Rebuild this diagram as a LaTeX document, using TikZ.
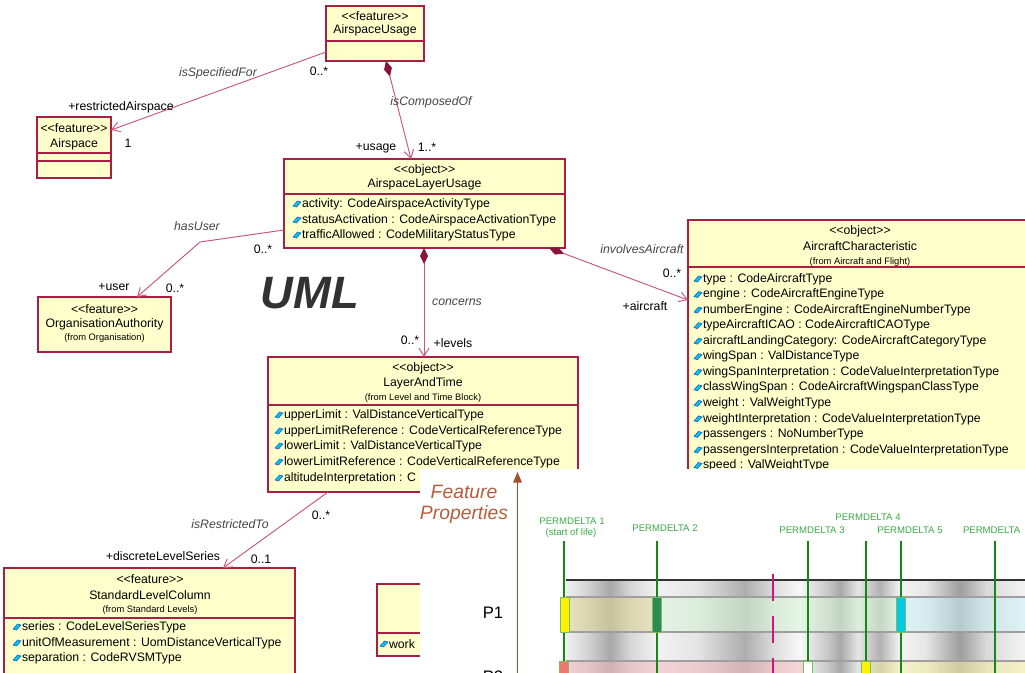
\documentclass[tikz,border=0pt]{standalone}
\usepackage{fontspec}
\setmainfont{Liberation Sans}[Ligatures=TeXOff]
\usetikzlibrary{arrows.meta,fit,calc}
\definecolor{clsfill}{RGB}{255,255,204}
\definecolor{clsline}{RGB}{170,30,70}
\definecolor{connc}{RGB}{200,85,125}
\definecolor{diamc}{RGB}{140,20,60}
\definecolor{iconA}{RGB}{0,200,235}
\definecolor{iconB}{RGB}{30,80,200}
\definecolor{fpc}{RGB}{180,95,60}
\definecolor{axisc}{RGB}{165,80,45}
\definecolor{pgreen}{RGB}{20,135,20}
\definecolor{plabel}{RGB}{60,170,70}
\definecolor{magc}{RGB}{214,20,120}
\definecolor{umlgray}{RGB}{50,50,50}
\definecolor{assocc}{RGB}{70,70,70}
\definecolor{tanc}{RGB}{225,215,150}
\definecolor{lgreenc}{RGB}{215,245,215}
\definecolor{lcyanc}{RGB}{205,240,248}
\definecolor{pinkc}{RGB}{245,185,190}
\definecolor{lyellowc}{RGB}{245,240,165}
\definecolor{mkborder}{RGB}{120,190,90}
\definecolor{mkdgreen}{RGB}{46,139,87}
\definecolor{mkcyan}{RGB}{0,200,230}
\definecolor{mksalmon}{RGB}{240,120,110}
\tikzset{
  attricon/.pic={\fill[iconA, draw=iconB, line width=0.4pt] (-4,2) -- (0.5,-3) -- (4,-2) -- (-0.5,3) -- cycle;}
}
\newcommand\attritem[4]{\pic at (#2,#3) {attricon}; \node[attr] (#1) at (#2+5,#3) {#4};}
\begin{document}
\begin{tikzpicture}[x=0.75pt,y=-0.75pt,
  every node/.style={inner sep=0pt, outer sep=0pt},
  cls/.style={draw=clsline, fill=clsfill, line width=0.9pt, inner sep=0pt},
  sepline/.style={draw=clsline, line width=0.9pt},
  txt/.style={font=\fontsize{9.2}{11}\selectfont},
  fromtxt/.style={font=\fontsize{7}{8}\selectfont},
  attr/.style={font=\fontsize{9.2}{11}\selectfont, anchor=west},
  role/.style={font=\fontsize{9.2}{11}\selectfont},
  assoc/.style={font=\fontsize{9.2}{11}\selectfont\itshape, text=assocc},
  conn/.style={draw=connc, line width=0.7pt},
  nav/.style={-{Straight Barb[length=6pt,width=7.5pt]}},
  comp/.style={arrows={Diamond[length=12pt,width=6pt,color=diamc]-Straight Barb[length=6pt,width=7.5pt]}},
  plbl/.style={font=\fontsize{7.2}{8}\selectfont, text=plabel},
  pline/.style={draw=pgreen, line width=1.7pt},
  mkbox/.style={draw=mkborder, line width=0.6pt}
]
\useasboundingbox (0,0) rectangle (1025,672);
\clip (0,0) rectangle (1025,672);
\fill[white] (0,0) rectangle (1025,672);

% ---------- classes ----------
% AirspaceUsage
\node[cls, fit={(326,6)(424,61)}] (au) {};
\draw[sepline] (326,41) -- (424,41);
\node[txt] (au-st) at (375,16) {<<feature>>};
\node[txt] (au-nm) at (375,30) {AirspaceUsage};

% Airspace
\node[cls, fit={(37,117)(111,178)}] (as) {};
\draw[sepline] (37,153) -- (111,153);
\draw[sepline] (37,161) -- (111,161);
\node[txt] (as-st) at (74,128) {<<feature>>};
\node[txt] (as-nm) at (74,144) {Airspace};

% AirspaceLayerUsage
\node[cls, fit={(284,159)(565,248)}] (alu) {};
\draw[sepline] (284,194) -- (565,194);
\node[txt] (alu-st) at (424.5,170) {<<object>>};
\node[txt] (alu-nm) at (424.5,184) {AirspaceLayerUsage};
\attritem{alu1}{297}{204}{activity: CodeAirspaceActivityType}
\attritem{alu2}{297}{220}{statusActivation : CodeAirspaceActivationType}
\attritem{alu3}{297}{235}{trafficAllowed : CodeMilitaryStatusType}

% OrganisationAuthority
\node[cls, fit={(38,297)(171,352)}] (oa) {};
\node[txt] (oa-st) at (104.5,309) {<<feature>>};
\node[txt] (oa-nm) at (104.5,324) {OrganisationAuthority};
\node[fromtxt] (oa-fr) at (104.5,338) {(from Organisation)};

% AircraftCharacteristic
\node[cls, fit={(688,220)(1032,490)}] (ac) {};
\draw[sepline] (688,267) -- (1032,267);
\node[txt] (ac-st) at (860,231) {<<object>>};
\node[txt] (ac-nm) at (860,246) {AircraftCharacteristic};
\node[fromtxt] (ac-fr) at (860,262) {(from Aircraft and Flight)};
\foreach \t [count=\i] in {type : CodeAircraftType, engine : CodeAircraftEngineType, numberEngine : CodeAircraftEngineNumberType, typeAircraftICAO : CodeAircraftICAOType, aircraftLandingCategory: CodeAircraftCategoryType, wingSpan : ValDistanceType, wingSpanInterpretation : CodeValueInterpretationType, classWingSpan : CodeAircraftWingspanClassType, weight : ValWeightType, weightInterpretation : CodeValueInterpretationType, passengers : NoNumberType, passengersInterpretation : CodeValueInterpretationType, speed : ValWeightType}{
  \pic at (698,{279+15.54*(\i-1)}) {attricon};
  \node[attr] (ac\i) at (703,{279+15.54*(\i-1)}) {\t};
}

% LayerAndTime
\node[cls, fit={(268,357)(578,492)}] (lat) {};
\draw[sepline] (268,405) -- (578,405);
\node[txt] (lat-st) at (423,368) {<<object>>};
\node[txt] (lat-nm) at (423,383) {LayerAndTime};
\node[fromtxt] (lat-fr) at (423,398) {(from Level and Time Block)};
\attritem{lat1}{279}{415}{upperLimit : ValDistanceVerticalType}
\attritem{lat2}{279}{431}{upperLimitReference : CodeVerticalReferenceType}
\attritem{lat3}{279}{446}{lowerLimit : ValDistanceVerticalType}
\attritem{lat4}{279}{462}{lowerLimitReference : CodeVerticalReferenceType}
\attritem{lat5}{279}{478}{altitudeInterpretation : C}

% StandardLevelColumn
\node[cls, fit={(4,568)(295,700)}] (slc) {};
\draw[sepline] (4,618) -- (295,618);
\node[txt] (slc-st) at (150,579) {<<feature>>};
\node[txt] (slc-nm) at (150,595) {StandardLevelColumn};
\node[fromtxt] (slc-fr) at (150,610) {(from Standard Levels)};
\attritem{slc1}{17}{627}{series : CodeLevelSeriesType}
\attritem{slc2}{17}{643}{unitOfMeasurement : UomDistanceVerticalType}
\attritem{slc3}{17}{658}{separation : CodeRVSMType}

% partial box
\node[cls, fit={(377,584)(520,656)}] (pb) {};
\draw[sepline] (377,633) -- (520,633);
\attritem{pb1}{384}{644}{work}

% ---------- connectors ----------
\draw[conn, nav] ($(au.south west)+(0,-9)$) -- ($(as.north east)+(0,13)$);
\node[assoc] (l-isf) at (218,73) {isSpecifiedFor};
\node[role] (m-isf1) at (319,71) {0..*};
\node[role] (r-isf) at (121,107) {+restrictedAirspace};
\node[role] (m-isf2) at (128,143) {1};

\draw[conn, comp] ($(au.south west)+(60,0)$) -- ($(alu.north west)+(127,0)$);
\node[assoc] (l-ico) at (431,102) {isComposedOf};
\node[role] (r-ico) at (376,148) {+usage};
\node[role] (m-ico) at (427,147) {1..*};

\coordinate (hu-bend) at (200,242);
\draw[conn, nav] ($(alu.north west)+(0,71)$) -- (hu-bend) -- ($(oa.north west)+(99,0)$);
\node[assoc] (l-hu) at (197,226) {hasUser};
\node[role] (m-hu1) at (263,249) {0..*};
\node[role] (r-hu) at (114,287) {+user};
\node[role] (m-hu2) at (175,288) {0..*};

\draw[conn, comp] ($(alu.south west)+(140,0)$) -- ($(lat.north west)+(156,0)$);
\node[assoc] (l-con) at (457,302) {concerns};
\node[role] (m-con) at (410,340) {0..*};
\node[role] (r-con) at (453,343) {+levels};

\draw[conn, comp] ($(alu.south west)+(265,0)$) -- ($(ac.north west)+(0,80)$);
\node[assoc] (l-inv) at (642,249) {involvesAircraft};
\node[role] (m-inv) at (672,273) {0..*};
\node[role] (r-inv) at (645,306) {+aircraft};

\draw[conn, nav] ($(lat.south west)+(60,0)$) -- ($(slc.north west)+(219,0)$);
\node[assoc] (l-irt) at (230,524) {isRestrictedTo};
\node[role] (m-irt1) at (321,515) {0..*};
\node[role] (r-irt) at (163,556) {+discreteLevelSeries};
\node[role] (m-irt2) at (261,559) {0..1};

% UML label
\node[font=\fontsize{34}{38}\selectfont\bfseries\itshape, text=umlgray] (uml) at (310,293) {UML};

% ---------- overlay ----------
\fill[white] (420,469) rectangle (1030,680);

% band
\foreach \xa/\ga/\xb/\gb in {566/94/586/84, 586/84/610/66, 610/66/630/84, 630/84/656/95, 656/95/696/90, 696/90/745/68, 745/68/776/88, 776/88/800/97, 800/97/828/78, 828/78/840/66, 840/66/858/90, 858/90/880/70, 880/70/900/96, 900/96/926/90, 926/90/960/62, 960/62/986/85, 986/85/1026/96}{
  \shade[left color=white!\ga!black, right color=white!\gb!black] (\xa,581) rectangle (\xb,680);
}
\fill[tanc, opacity=.55] (566,597) rectangle (657,632);
\fill[lgreenc, opacity=.55] (657,597) rectangle (901,632);
\fill[lcyanc, opacity=.55] (901,597) rectangle (1026,632);
\fill[pinkc, opacity=.55] (566,661) rectangle (808,680);
\fill[lyellowc, opacity=.55] (866,661) rectangle (1026,680);
\draw[gray!75, line width=1.1pt] (566,597) -- (1026,597);
\draw[gray!75, line width=1.1pt] (566,632) -- (1026,632);
\draw[gray!75, line width=1.1pt] (566,661) -- (1026,661);
\draw[black!80, line width=1.5pt] (566,580) -- (1026,580);

% dashed magenta
\draw[magc, line width=1.8pt, dash pattern=on 20.25pt off 11.25pt] (773,574) -- (773,690);

% axis
\coordinate (ax-bot) at (517.5,680);
\coordinate (ax-top) at (517.5,472);
\draw[axisc, line width=1.1pt, -{Triangle[length=8pt,width=6.5pt]}] (ax-bot) -- (ax-top);
\node[font=\fontsize{14.5}{16}\selectfont\itshape, text=fpc] (fp1) at (464,492) {Feature};
\node[font=\fontsize{14.5}{16}\selectfont\itshape, text=fpc] (fp2) at (464,514) {Properties};

% PERMDELTA
\node[plbl] (pd1) at (572,521) {PERMDELTA 1};
\node[plbl] (pd1b) at (571,533) {(start of life)};
\node[plbl] (pd2) at (665,528) {PERMDELTA 2};
\node[plbl] (pd3) at (812,530) {PERMDELTA 3};
\node[plbl] (pd4) at (868,517) {PERMDELTA 4};
\node[plbl] (pd5) at (910,530) {PERMDELTA 5};
\node[plbl, anchor=west] (pd6) at (963,530) {PERMDELTA};
\foreach \x in {564,657,808,866,901,995}{
  \draw[pline] (\x,541) -- (\x,680);
}
% markers
\fill[yellow, mkbox] (560,597) rectangle (569,632);
\fill[mkdgreen, mkbox] (652.5,597) rectangle (661.5,632);
\fill[mkcyan, mkbox] (896.5,597) rectangle (905.5,632);
\fill[mksalmon, mkbox] (559.5,661) rectangle (568.5,680);
\fill[white, mkbox] (803.5,661) rectangle (812.5,680);
\fill[yellow, mkbox] (861.5,661) rectangle (870.5,680);

\node[font=\fontsize{12.5}{14}\selectfont] (p1) at (493,613) {P1};
\node[font=\fontsize{12.5}{14}\selectfont] (p2) at (493,677) {P2};
\end{tikzpicture}
\end{document}
